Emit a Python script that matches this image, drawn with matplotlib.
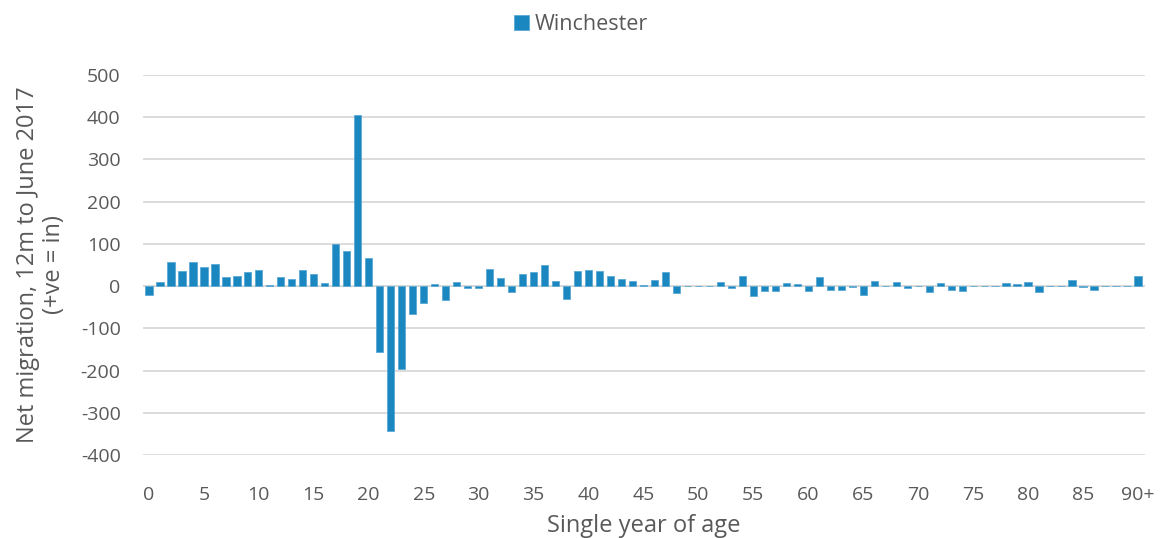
import matplotlib

matplotlib.use("Agg")
import matplotlib.pyplot as plt
import numpy as np

plt.rcParams["font.family"] = ["Open Sans", "DejaVu Sans"]
plt.rcParams["axes.unicode_minus"] = False

# net migration by single year of age, 0..90+
ages = list(range(91))
net_migration = [
    -22, 10, 56, 36, 56, 45, 52, 21, 23, 33,
    39, 2, 22, 16, 38, 29, 8, 100, 82, 405,
    66, -155, -343, -195, -66, -39, 5, -33, 9, -4,
    -4, 40, 20, -14, 28, 33, 51, 11, -30, 36,
    37, 35, 24, 17, 11, 2, 14, 33, -16, 0,
    1, 1, 10, -5, 25, -24, -11, -12, 7, 6,
    -12, 22, -10, -10, -2, -20, 13, 1, 10, -4,
    1, -15, 8, -9, -11, 0, 1, 0, 7, 5,
    10, -13, 0, 0, 14, -1, -10, 0, 0, 1,
    23,
]
tick_pos = list(range(0, 91, 5))
tick_labels = [str(t) for t in range(0, 90, 5)] + ["90+"]

BLUE = "#1a87c0"
TEXT = "#595959"
GRID = "#d9d9d9"

fig = plt.figure(figsize=(11.62, 5.38), dpi=100)
ax = fig.add_axes([0.123, 0.154, 0.862, 0.707])

ax.bar(ages, net_migration, width=0.66, color=BLUE, edgecolor="#5aa8d4",
       linewidth=0.6, label="Winchester", zorder=3)

ax.set_xlim(-0.55, 90.6)
ax.set_ylim(-400, 500)
ax.set_yticks(np.arange(-400, 501, 100))
ax.set_xticks(tick_pos)
ax.set_xticklabels(tick_labels)
ax.yaxis.grid(True, color=GRID, linewidth=1.3, zorder=0)
ax.axhline(0, color=GRID, linewidth=1.3, zorder=1)
for s in ax.spines.values():
    s.set_visible(False)
ax.tick_params(length=0, labelsize=14, colors=TEXT)
ax.tick_params(axis="x", pad=22)
ax.tick_params(axis="y", pad=16)

ax.set_xlabel("Single year of age", fontsize=17, color=TEXT)
ax.set_ylabel("Net migration, 12m to June 2017\n(+ve = in)", fontsize=17,
              color=TEXT, linespacing=1.1)
ax.xaxis.set_label_coords(0.5, -0.155)
ax.yaxis.set_label_coords(-0.077, 0.5)

leg = fig.legend(loc="upper center", bbox_to_anchor=(0.5, 1.01), frameon=False,
                 fontsize=15.5, handlelength=0.7, handleheight=0.7,
                 handletextpad=0.3)
for t in leg.get_texts():
    t.set_color(TEXT)

fig.savefig("out.png", dpi=100)
